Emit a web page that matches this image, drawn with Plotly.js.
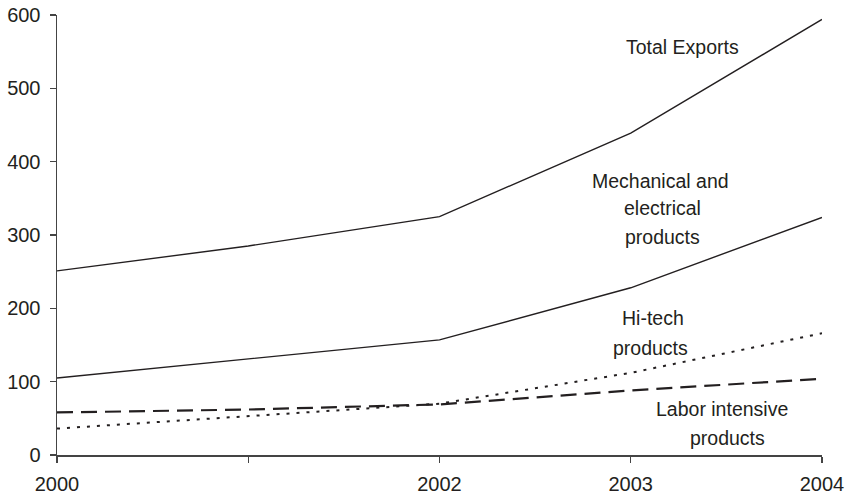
<!DOCTYPE html>
<html>
<head>
<meta charset="utf-8">
<script src="https://cdn.plot.ly/plotly-3.0.1.min.js"></script>
<style>html,body{margin:0;padding:0;background:#fff;}#chart{width:848px;height:498px;}</style>
</head>
<body>
<div id="chart"></div>
<script>
const years = [2000, 2001, 2002, 2003, 2004];
const tickLabels = ['2000', '', '2002', '2003', '2004'];
const totalExports = [251, 285, 325, 439, 594];
const mechElectrical = [105, 131, 157, 228, 324];
const hiTech = [36, 53, 70, 112, 166];
const laborIntensive = [58, 62, 69, 88, 104];

const ink = '#231f20';
const traces = [
  {x: years, y: totalExports, mode: 'lines', line: {color: ink, width: 1.4}},
  {x: years, y: mechElectrical, mode: 'lines', line: {color: ink, width: 1.4}},
  {x: years, y: hiTech, mode: 'lines', line: {color: ink, width: 2, dash: '3px,7px'}},
  {x: years, y: laborIntensive, mode: 'lines', line: {color: ink, width: 2.2, dash: '16px,8px'}}
];

const fnt = {family: 'Liberation Sans, Arial, sans-serif', size: 20, color: ink};
function ann(text, px, py) {
  return {text: text, xref: 'paper', yref: 'paper', x: (px - 57) / 765, y: (455 - py) / 440,
    xanchor: 'center', yanchor: 'middle', showarrow: false, font: {family: fnt.family, size: 19.5, color: ink}};
}

const layout = {
  width: 848, height: 498,
  margin: {l: 57, r: 26, t: 15, b: 43},
  paper_bgcolor: '#fff', plot_bgcolor: '#fff',
  showlegend: false,
  font: fnt,
  xaxis: {
    range: [2000, 2004], tickvals: years, ticktext: tickLabels,
    showline: true, linecolor: '#444', linewidth: 1.5,
    ticks: 'outside', ticklen: 6, tickcolor: '#444', tickwidth: 1.3,
    showgrid: false, zeroline: false, tickfont: fnt, ticklabelstandoff: 4
  },
  yaxis: {
    range: [0, 600], dtick: 100,
    showline: true, linecolor: '#444', linewidth: 1.5,
    ticks: 'outside', ticklen: 6, tickcolor: '#444', tickwidth: 1.3,
    showgrid: false, zeroline: false, tickfont: fnt, ticklabelstandoff: 5
  },
  annotations: [
    ann('Total Exports', 682, 47),
    ann('Mechanical and', 660, 181),
    ann('electrical', 662, 208),
    ann('products', 662, 237),
    ann('Hi-tech', 653, 318),
    ann('products', 650, 348),
    ann('Labor intensive', 722, 409),
    ann('products', 727, 438)
  ]
};

Plotly.newPlot('chart', traces, layout, {displayModeBar: false, staticPlot: true});
</script>
</body>
</html>
